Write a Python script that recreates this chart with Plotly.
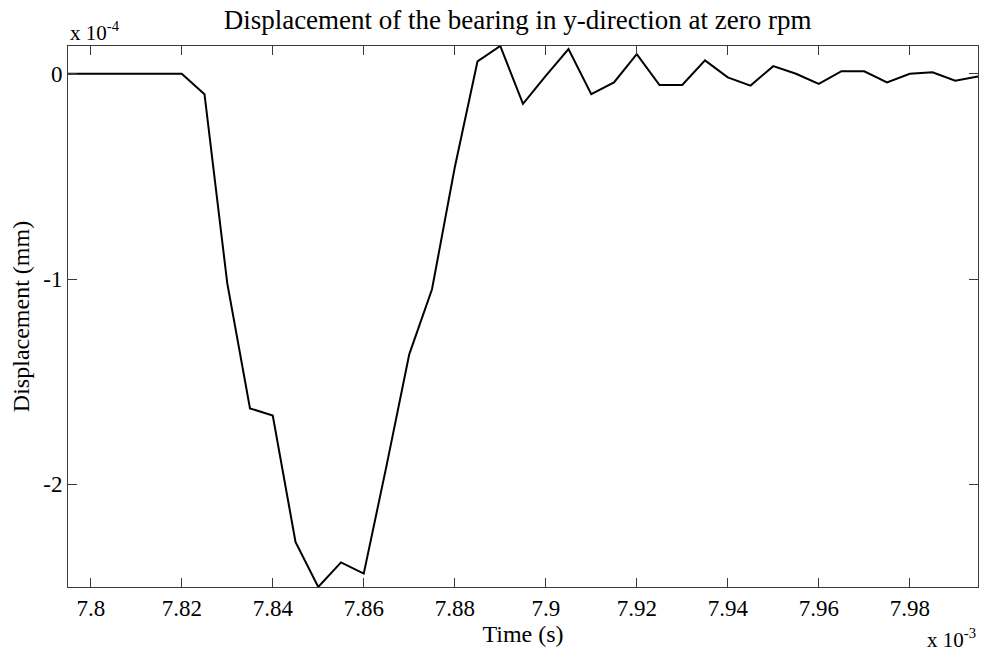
import plotly.graph_objects as go

# Time samples in units of 1e-3 s
time_ms = [7.795, 7.800, 7.805, 7.810, 7.815, 7.820, 7.825, 7.830, 7.835, 7.840,
           7.845, 7.850, 7.855, 7.860, 7.865, 7.870, 7.875, 7.880, 7.885, 7.890,
           7.895, 7.900, 7.905, 7.910, 7.915, 7.920, 7.925, 7.930, 7.935, 7.940,
           7.945, 7.950, 7.955, 7.960, 7.965, 7.970, 7.975, 7.980, 7.985, 7.990,
           7.995]

# Bearing displacement in units of 1e-4 mm
disp_e4 = [0.0, 0.0, 0.0, 0.0, 0.0, 0.0, -0.10, -1.02, -1.63, -1.665,
           -2.28, -2.50, -2.38, -2.435, -1.91, -1.367, -1.05, -0.457, 0.06, 0.135,
           -0.147, -0.01, 0.12, -0.10, -0.042, 0.095, -0.055, -0.055, 0.065, -0.018,
           -0.058, 0.037, 0.0, -0.05, 0.012, 0.012, -0.042, 0.0, 0.007, -0.034,
           -0.013]

x_tick_vals = [7.80, 7.82, 7.84, 7.86, 7.88, 7.90, 7.92, 7.94, 7.96, 7.98]
x_tick_text = ["7.8", "7.82", "7.84", "7.86", "7.88", "7.9", "7.92", "7.94", "7.96", "7.98"]
y_tick_vals = [0, -1, -2]
y_tick_text = ["0", "-1", "-2"]

FONT = "Liberation Serif"
AXIS_COLOR = "#3a3a3a"

fig = go.Figure()
fig.add_trace(go.Scatter(
    x=time_ms, y=disp_e4, mode="lines",
    line=dict(color="black", width=2),
    showlegend=False,
))

axis_common = dict(
    showgrid=False, zeroline=False,
    showline=True, linecolor=AXIS_COLOR, linewidth=1,
    mirror="allticks", ticks="inside", ticklen=9, tickwidth=1, tickcolor=AXIS_COLOR,
    tickfont=dict(family=FONT, size=23, color="black"),
)

fig.update_layout(
    width=982, height=655,
    margin=dict(l=68, r=4, t=46, b=68),
    paper_bgcolor="white", plot_bgcolor="white",
    title=dict(
        text="Displacement of the bearing in y-direction at zero rpm",
        font=dict(family=FONT, size=27, color="black"),
        xref="paper", x=0.494, xanchor="center",
        yref="container", y=1 - 20 / 655, yanchor="middle",
    ),
    xaxis=dict(
        range=[7.795, 7.995],
        tickmode="array", tickvals=x_tick_vals, ticktext=x_tick_text,
        title=dict(text="Time (s)", font=dict(family=FONT, size=24, color="black"), standoff=3),
        **axis_common,
    ),
    yaxis=dict(
        range=[-2.5, 0.135],
        tickmode="array", tickvals=y_tick_vals, ticktext=y_tick_text,
        title=dict(text="Displacement (mm)", font=dict(family=FONT, size=24, color="black"), standoff=6),
        **axis_common,
    ),
    annotations=[
        dict(text="x 10<sup>-4</sup>", xref="paper", yref="paper", x=0, y=1,
             xanchor="left", yanchor="middle", yshift=15, showarrow=False,
             font=dict(family=FONT, size=21, color="black")),
        dict(text="x 10<sup>-3</sup>", xref="paper", yref="paper", x=1, y=0,
             xanchor="right", yanchor="middle", yshift=-51, showarrow=False,
             font=dict(family=FONT, size=21, color="black")),
    ],
)

fig.write_html("out.html")
